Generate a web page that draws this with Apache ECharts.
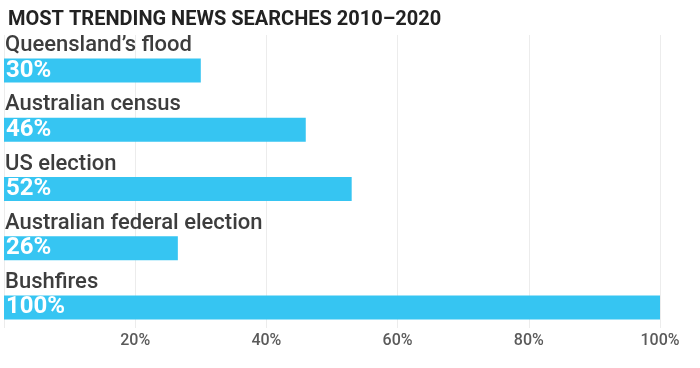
<!DOCTYPE html>
<html>
<head>
<meta charset="utf-8">
<script src="https://cdn.jsdelivr.net/npm/echarts@6/dist/echarts.min.js"></script>
<style>
html,body{margin:0;padding:0;background:#fff;}
#chart{width:700px;height:368px;}
</style>
</head>
<body>
<div id="chart"></div>
<script>
const titleText = 'MOST TRENDING NEWS SEARCHES 2010–2020';
const categories = ['Queensland’s flood', 'Australian census', 'US election', 'Australian federal election', 'Bushfires'];
const values = [30, 46, 53, 26.5, 100];
const valueLabels = ['30%', '46%', '52%', '26%', '100%'];
const tickValues = [20, 40, 60, 80, 100];

const FONT = 'Roboto, "Noto Sans", sans-serif';
const chart = echarts.init(document.getElementById('chart'), null, {renderer: 'canvas'});
chart.setOption({
  animation: false,
  backgroundColor: '#ffffff',
  title: {
    text: titleText,
    left: 3, top: 5,
    textStyle: {fontFamily: FONT, fontSize: 20, fontWeight: 'bold', color: '#222222'}
  },
  grid: [
    {left: 4, right: 40, top: 41, bottom: 31, containLabel: false},
    {left: 4, right: 40, top: 35, bottom: 40, containLabel: false}
  ],
  xAxis: [
    {gridIndex: 0, type: 'value', min: 0, max: 100, show: false},
    {gridIndex: 1, type: 'value', min: 0, max: 100, interval: 20,
     axisLine: {show: false}, axisTick: {show: false},
     splitLine: {show: true, lineStyle: {color: '#ececec', width: 1}},
     axisLabel: {
       margin: 5, color: '#5a5a5a', fontFamily: FONT, fontSize: 16, fontWeight: 500,
       formatter: v => tickValues.includes(v) ? v + '%' : ''
     }}
  ],
  yAxis: [
    {gridIndex: 0, type: 'category', data: categories, inverse: true,
     axisLine: {show: false}, axisTick: {show: false}, splitLine: {show: false},
     axisLabel: {
       inside: true, interval: 0, margin: 1,
       verticalAlign: 'bottom', lineHeight: 22, padding: [0, 0, 14, 0],
       color: '#3d3d3d', fontFamily: FONT, fontSize: 22, fontWeight: 500
     }},
    {gridIndex: 1, type: 'category', data: categories, show: false}
  ],
  series: [{
    type: 'bar',
    xAxisIndex: 0, yAxisIndex: 0,
    data: values,
    barWidth: 24,
    itemStyle: {color: '#36c5f2'},
    label: {
      show: true, position: 'insideLeft', distance: 2,
      formatter: p => valueLabels[p.dataIndex],
      color: '#ffffff', fontFamily: FONT, fontSize: 24, fontWeight: 'bold'
    }
  }]
});
</script>
</body>
</html>
